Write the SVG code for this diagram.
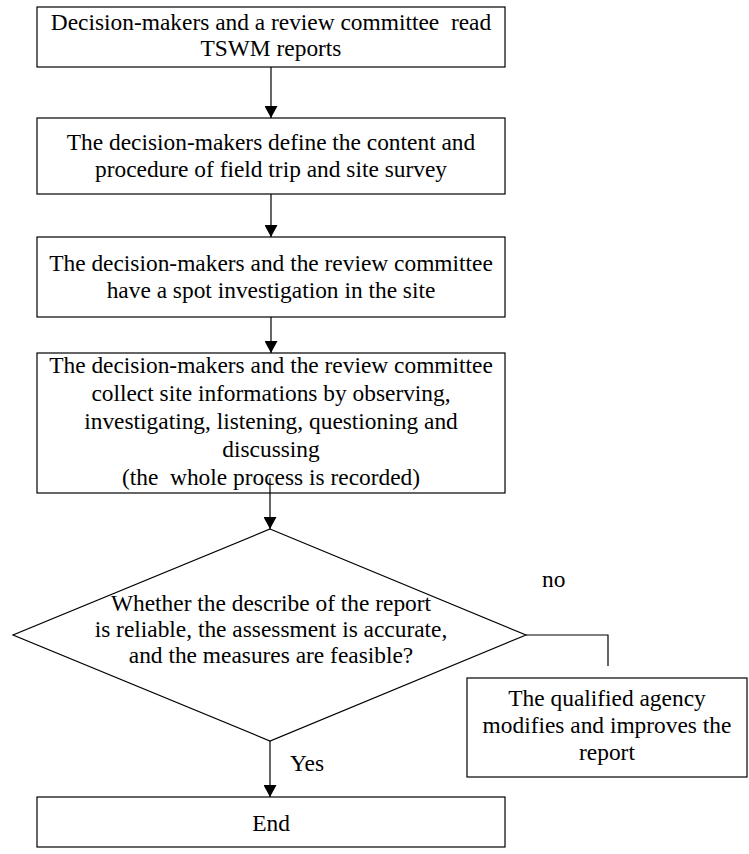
<svg xmlns="http://www.w3.org/2000/svg" width="749" height="854" viewBox="0 0 749 854">
<defs>
<style>
.box{fill:#fff;stroke:#000;stroke-width:1.2}
.t{font-family:"Liberation Serif","Times New Roman",serif;font-size:23.4px;fill:#000;text-anchor:middle}
.tl{font-family:"Liberation Serif","Times New Roman",serif;font-size:23.4px;fill:#000}
.ln{fill:none;stroke:#000;stroke-width:1.2}
</style>
<marker id="ah" markerWidth="12" markerHeight="13" refX="12" refY="6.5" orient="auto" markerUnits="userSpaceOnUse">
<path d="M0,0 L12,6.5 L0,13 Z" fill="#000"/>
</marker>
</defs>
<rect width="749" height="854" fill="#fff"/>
<g id="n1">
<rect class="box" x="37" y="7" width="468" height="60"/>
<text class="t" x="271" y="30" xml:space="preserve">Decision-makers and a review committee  read</text>
<text class="t" x="271" y="56">TSWM reports</text>
</g>
<g id="n2">
<rect class="box" x="37" y="118" width="468" height="76"/>
<text class="t" x="271" y="150">The decision-makers define the content and</text>
<text class="t" x="271" y="177">procedure of field trip and site survey</text>
</g>
<g id="n3">
<rect class="box" x="37" y="237" width="468" height="80"/>
<text class="t" x="271" y="271">The decision-makers and the review committee</text>
<text class="t" x="271" y="298">have a spot investigation in the site</text>
</g>
<g id="n4">
<rect class="box" x="37" y="353" width="468" height="140"/>
<text class="t" x="271" y="373">The decision-makers and the review committee</text>
<text class="t" x="271" y="401">collect site informations by observing,</text>
<text class="t" x="271" y="429">investigating, listening, questioning and</text>
<text class="t" x="271" y="457">discussing</text>
<text class="t" x="271" y="485" xml:space="preserve">(the  whole process is recorded)</text>
</g>
<g id="n5">
<polygon class="box" points="270,529 526,635 270,741 13,635"/>
<text class="t" x="271" y="611">Whether the describe of the report</text>
<text class="t" x="271" y="637">is reliable, the assessment is accurate,</text>
<text class="t" x="271" y="663">and the measures are feasible?</text>
</g>
<g id="n6">
<rect class="box" x="467" y="678" width="280" height="99"/>
<text class="t" x="607" y="706">The qualified agency</text>
<text class="t" x="607" y="733">modifies and improves the</text>
<text class="t" x="607" y="760">report</text>
</g>
<g id="n7">
<rect class="box" x="37" y="797" width="468" height="50"/>
<text class="t" x="271" y="831">End</text>
</g>
<g id="connectors">
<line class="ln" x1="271" y1="67" x2="271" y2="118" marker-end="url(#ah)"/>
<line class="ln" x1="271" y1="194" x2="271" y2="237" marker-end="url(#ah)"/>
<line class="ln" x1="271" y1="317" x2="271" y2="353" marker-end="url(#ah)"/>
<line class="ln" x1="270" y1="478" x2="270" y2="529" marker-end="url(#ah)"/>
<polyline class="ln" points="526,635 608,635 608,666"/>
<line class="ln" x1="270" y1="741" x2="270" y2="797" marker-end="url(#ah)"/>
<text class="tl" x="542" y="587">no</text>
<text class="tl" x="290" y="771">Yes</text>
</g>
</svg>
